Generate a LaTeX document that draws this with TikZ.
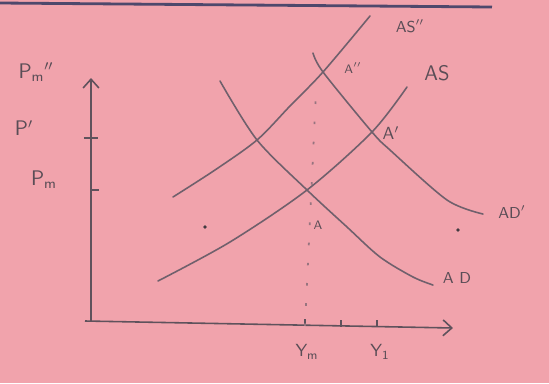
\documentclass[tikz,border=0pt]{standalone}
\usepackage{tikz}
\usetikzlibrary{arrows.meta,positioning,calc}
\usepackage{xcolor}
\definecolor{papercol}{RGB}{241,163,172}
\definecolor{pencilcol}{RGB}{112,96,108}
\definecolor{inkcol}{RGB}{78,72,108}

\begin{document}
\begin{tikzpicture}[
    x=0.02cm, y=-0.02cm,
    curve/.style={draw=pencilcol, line width=0.9pt, line cap=round},
    axis/.style={draw=pencilcol!85!black, line width=0.9pt, -{Straight Barb[length=5pt,width=9pt]}},
    tick/.style={draw=pencilcol!85!black, line width=0.9pt},
    lbl/.style={font=\sffamily, text=pencilcol!80!black, inner sep=0pt},
]
\fill[papercol] (0,0) rectangle (549,383);
\useasboundingbox (0,0) rectangle (549,383);

% ruled line at the top of the page
\draw[inkcol, line width=1.6pt] (0,3) -- (492,7);

% axes
\coordinate (O) at (91,321);
\coordinate (ytop) at (91,78);
\coordinate (xend) at (453,328);
\draw[axis] (O) -- (ytop);
\draw[axis] (85,321) -- (xend);

% ticks
\coordinate (tPp) at (91,138);
\coordinate (tPm) at (91,190);
\draw[tick] ($(tPp)+(-7,0)$) -- ($(tPp)+(7,0)$);
\draw[tick] (tPm) -- ($(tPm)+(8,0)$);
\coordinate (tYm) at (305,326);
\coordinate (tmid) at (341,327);
\coordinate (tY1) at (377,327);
\foreach \t in {tYm,tmid,tY1}
  \draw[tick] ($(\t)+(0,-7)$) -- (\t);

% equilibria
\coordinate (A) at (307,190);
\coordinate (A1) at (372,132);
\coordinate (A2) at (323,72);

% dotted guide from Ym up to A''
\draw[pencilcol!70!papercol, line width=1pt, dash pattern=on 1.5pt off 10pt] (tYm) -- (316,92);

% curves
\draw[curve] plot[smooth] coordinates {(173,197) (215,170) (257,140) (290,106) (A2) (370,16)};
\draw[curve] plot[smooth] coordinates {(158,281) (230,242) (A) (A1) (407,87)};
\draw[curve] plot[smooth] coordinates {(220,81) (257,140) (A) (347,227) (380,257) (413,277) (433,285)};
\draw[curve] plot[smooth] coordinates {(313,53) (A2) (A1) (390,150) (447,200) (483,214)};

% stray pencil dots
\fill[pencilcol!60!black] (205,227) circle (1pt);
\fill[pencilcol!60!black] (458,230) circle (1pt);

% labels
\node[lbl, font=\sffamily\large] (lPmm) at (36,72) {P\textsubscript{m}$''$};
\node[lbl, font=\sffamily\large] (lPp) at (24,128) {P$'$};
\node[lbl, font=\sffamily\large] (lPm) at (44,180) {P\textsubscript{m}};
\node[lbl, font=\sffamily] (lYm) at (307,352) {Y\textsubscript{m}};
\node[lbl, font=\sffamily] (lY1) at (380,352) {Y\textsubscript{1}};
\node[lbl, font=\sffamily\small] (lASpp) at (410,26) {AS$''$};
\node[lbl, font=\sffamily\scriptsize] (lA2) at (353,68) {A$''$};
\node[lbl, font=\sffamily\large] (lAS) at (437,73) {AS};
\node[lbl, font=\sffamily] (lA1) at (391,133) {A$'$};
\node[lbl, font=\sffamily\small] (lADp) at (512,212) {AD$'$};
\node[lbl, font=\sffamily\small] (lAD) at (457,278) {A D};
\node[lbl, font=\sffamily\scriptsize] (lA) at (318,225) {A};
\end{tikzpicture}
\end{document}
